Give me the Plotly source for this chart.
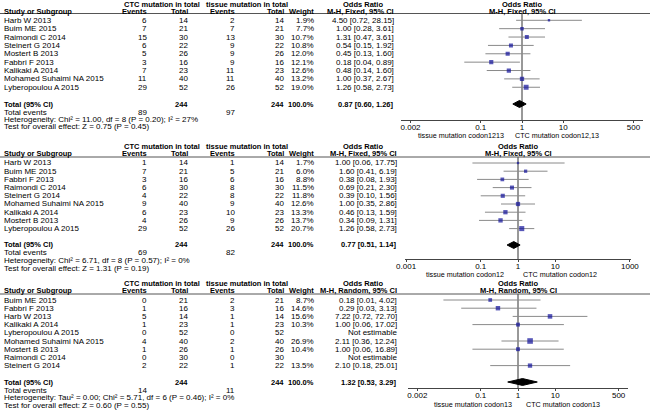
import plotly.graph_objects as go

W, H = 650, 412
FONT = "Arial, Liberation Sans, sans-serif"
FS = 8
FSB = 7.5
FSL = 7.2

# ---------------- data ----------------
p1_studies = ["Harb W 2013", "Buim ME 2015", "Raimondi C 2014", "Steinert G 2014", "Mostert B 2013",
              "Fabbri F 2013", "Kalikaki A 2014", "Mohamed Suhaimi NA 2015", "Lyberopoulou A 2015"]
p1_ctc_events = [6, 7, 15, 6, 5, 3, 7, 11, 29]
p1_ctc_total = [14, 21, 30, 22, 26, 16, 23, 40, 52]
p1_tis_events = [2, 7, 13, 9, 9, 9, 11, 11, 26]
p1_tis_total = [14, 21, 30, 22, 26, 16, 23, 40, 52]
p1_weight = [1.9, 7.7, 10.7, 10.8, 12.0, 12.1, 12.6, 13.2, 19.0]
p1_or = [4.50, 1.00, 1.31, 0.54, 0.45, 0.18, 0.48, 1.00, 1.26]
p1_lo = [0.72, 0.28, 0.47, 0.15, 0.13, 0.04, 0.14, 0.37, 0.58]
p1_hi = [28.15, 3.61, 3.61, 1.92, 1.60, 0.89, 1.60, 2.67, 2.73]
p1_pooled = [0.87, 0.60, 1.26]
p1_total_events = [89, 97]
p1_het = "Heterogeneity: Chi² = 11.00, df = 8 (P = 0.20); I² = 27%"
p1_test = "Test for overall effect: Z = 0.75 (P = 0.45)"

p2_studies = ["Harb W 2013", "Buim ME 2015", "Fabbri F 2013", "Raimondi C 2014", "Steinert G 2014",
              "Mohamed Suhaimi NA 2015", "Kalikaki A 2014", "Mostert B 2013", "Lyberopoulou A 2015"]
p2_ctc_events = [1, 7, 3, 6, 4, 9, 6, 4, 29]
p2_ctc_total = [14, 21, 16, 30, 22, 40, 23, 26, 52]
p2_tis_events = [1, 5, 6, 8, 8, 9, 10, 9, 26]
p2_tis_total = [14, 21, 16, 30, 22, 40, 23, 26, 52]
p2_weight = [1.7, 6.0, 8.8, 11.5, 11.8, 12.6, 13.3, 13.7, 20.7]
p2_or = [1.00, 1.60, 0.38, 0.69, 0.39, 1.00, 0.46, 0.34, 1.26]
p2_lo = [0.06, 0.41, 0.08, 0.21, 0.10, 0.35, 0.13, 0.09, 0.58]
p2_hi = [17.75, 6.19, 1.93, 2.30, 1.56, 2.86, 1.59, 1.31, 2.73]
p2_pooled = [0.77, 0.51, 1.14]
p2_total_events = [69, 82]
p2_het = "Heterogeneity: Chi² = 6.71, df = 8 (P = 0.57); I² = 0%"
p2_test = "Test for overall effect: Z = 1.31 (P = 0.19)"

p3_studies = ["Buim ME 2015", "Fabbri F 2013", "Harb W 2013", "Kalikaki A 2014", "Lyberopoulou A 2015",
              "Mohamed Suhaimi NA 2015", "Mostert B 2013", "Raimondi C 2014", "Steinert G 2014"]
p3_ctc_events = [0, 1, 5, 1, 0, 4, 1, 0, 2]
p3_ctc_total = [21, 16, 14, 23, 52, 40, 26, 30, 22]
p3_tis_events = [2, 3, 1, 1, 0, 2, 1, 0, 1]
p3_tis_total = [21, 16, 14, 23, 52, 40, 26, 30, 22]
p3_weight = [8.7, 14.6, 15.6, 10.3, None, 26.9, 10.4, None, 13.5]
p3_or = [0.18, 0.29, 7.22, 1.00, None, 2.11, 1.00, None, 2.10]
p3_lo = [0.01, 0.03, 0.72, 0.06, None, 0.36, 0.06, None, 0.18]
p3_hi = [4.02, 3.13, 72.70, 17.02, None, 12.24, 16.89, None, 25.01]
p3_pooled = [1.32, 0.53, 3.29]
p3_total_events = [14, 11]
p3_het = "Heterogeneity: Tau² = 0.00; Chi² = 5.71, df = 6 (P = 0.46); I² = 0%"
p3_test = "Test for overall effect: Z = 0.60 (P = 0.55)"

ticks_a = [0.002, 0.1, 1, 10, 500]
ticks_b = [0.001, 0.1, 1, 10, 1000]
tick_labels_a = ["0.002", "0.1", "1", "10", "500"]
tick_labels_b = ["0.001", "0.1", "1", "10", "1000"]

panels = [
    dict(studies=p1_studies, ce=p1_ctc_events, ct=p1_ctc_total, te=p1_tis_events, tt=p1_tis_total,
         w=p1_weight, est=p1_or, lo=p1_lo, hi=p1_hi, pooled=p1_pooled, tev=p1_total_events,
         het=p1_het, test=p1_test, method="M-H, Fixed, 95% CI", tickv=ticks_a, tickt=tick_labels_a,
         left="tissue mutation codon1213", right="CTC mutation codon12,13",
         row0=20.3, sp=8.37, line=13.5, axis=120, hdr1=4.5, hdr2=11.2, xdom=(401, 643), xr=2.93,
         lab_py=135.5, lab_l=505, lab_r=514, or2=522, xor=395),
    dict(studies=p2_studies, ce=p2_ctc_events, ct=p2_ctc_total, te=p2_tis_events, tt=p2_tis_total,
         w=p2_weight, est=p2_or, lo=p2_lo, hi=p2_hi, pooled=p2_pooled, tev=p2_total_events,
         het=p2_het, test=p2_test, method="M-H, Fixed, 95% CI", tickv=ticks_b, tickt=tick_labels_b,
         left="tissue mutation codon12", right="CTC mutation codon12",
         row0=163, sp=8.2, line=157, axis=259, hdr1=146, hdr2=153.2, xdom=(405, 631), xr=3.03,
         lab_py=274.5, lab_l=505, lab_r=522, or2=518, xor=398),
    dict(studies=p3_studies, ce=p3_ctc_events, ct=p3_ctc_total, te=p3_tis_events, tt=p3_tis_total,
         w=p3_weight, est=p3_or, lo=p3_lo, hi=p3_hi, pooled=p3_pooled, tev=p3_total_events,
         het=p3_het, test=p3_test, method="M-H, Random, 95% CI", tickv=ticks_a, tickt=tick_labels_a,
         left="tissue mutation codon13", right="CTC mutation codon13",
         row0=300, sp=8.2, line=294, axis=388, hdr1=283, hdr2=290.2, xdom=(408, 628), xr=2.95,
         lab_py=404, lab_l=513, lab_r=525, or2=518, xor=398),
]

# column right edges (px)
X_STUDY = 3
X_CE, X_CT, X_TE, X_TT, X_W = 148, 189, 236, 285, 315
X_OR_HDR = 363

fig = go.Figure()
annotations = []
shapes = []


def px(x):
    return x / W


def py(y):
    return 1 - y / H


def ann(text, x, y, yref, xanchor="left", bold=False, size=None):
    if size is None:
        size = FSB if bold else FS
    annotations.append(dict(
        text=("<b>%s</b>" % text) if bold else text, x=x, y=y, xref="paper", yref=yref,
        xanchor=xanchor, yanchor="middle", showarrow=False, borderpad=0,
        font=dict(family=FONT, size=size, color="black")))


for k, p in enumerate(panels):
    sfx = "" if k == 0 else str(k + 1)
    xa, ya = "x" + sfx, "y" + sfx
    row_of = lambda yy, p=p: (yy - p["row0"]) / p["sp"]
    n = len(p["studies"])
    total_row = n + 1
    total_py = p["row0"] + total_row * p["sp"]
    X_OR = p["xor"]

    # axes
    fig.layout["xaxis" + sfx] = dict(
        type="log", domain=[px(p["xdom"][0]), px(p["xdom"][1])], range=[-p["xr"], p["xr"]],
        anchor=ya, tickvals=p["tickv"], ticktext=p["tickt"], ticks="outside", ticklen=2,
        ticklabelstandoff=-3,
        tickcolor="#444", showline=True, linecolor="#444", linewidth=1, showgrid=False,
        zeroline=False, tickfont=dict(family=FONT, size=FS, color="black"), fixedrange=True,
        automargin=False)
    fig.layout["yaxis" + sfx] = dict(
        domain=[py(p["axis"]), py(p["line"])], range=[row_of(p["axis"]), row_of(p["line"])],
        anchor=xa, visible=False, showgrid=False, zeroline=False, fixedrange=True,
        automargin=False)

    # header line across the table
    shapes.append(dict(type="line", xref="paper", yref="paper", x0=0, x1=1,
                       y0=py(p["line"]), y1=py(p["line"]), line=dict(color="#555", width=1)))

    # reference line at OR = 1
    fig.add_trace(go.Scatter(x=[1, 1], y=[row_of(p["line"]), row_of(p["axis"])], mode="lines",
                             line=dict(color="#333", width=1), xaxis=xa, yaxis=ya,
                             hoverinfo="skip", showlegend=False))

    # CI lines
    cx, cy = [], []
    for i in range(n):
        if p["est"][i] is None:
            continue
        cx += [p["lo"][i], p["hi"][i], None]
        cy += [i, i, None]
    fig.add_trace(go.Scatter(x=cx, y=cy, mode="lines", line=dict(color="#8a8a8a", width=1),
                             xaxis=xa, yaxis=ya, hoverinfo="skip", showlegend=False))

    # squares
    idx = [i for i in range(n) if p["est"][i] is not None]
    fig.add_trace(go.Scatter(
        x=[p["est"][i] for i in idx], y=idx, mode="markers",
        marker=dict(symbol="square", color="#10109a",
                    size=[1.2 + 0.85 * (p["w"][i] ** 0.5) for i in idx], line=dict(width=0)),
        xaxis=xa, yaxis=ya, hoverinfo="skip", showlegend=False))

    # diamond
    e, l, h = p["pooled"]
    dh = 0.42
    fig.add_trace(go.Scatter(x=[l, e, h, e, l], y=[total_row, total_row - dh, total_row, total_row + dh, total_row],
                             mode="lines", fill="toself", fillcolor="black",
                             line=dict(color="black", width=1), xaxis=xa, yaxis=ya,
                             hoverinfo="skip", showlegend=False))

    # header texts
    y1, y2 = py(p["hdr1"]), py(p["hdr2"])
    ann("CTC mutation in total", px(162), y1, "paper", "center", True)
    ann("tissue mutation in total", px(247), y1, "paper", "center", True)
    ann("Odds Ratio", px(X_OR_HDR), y1, "paper", "center", True)
    ann("Odds Ratio", px(p["or2"]), y1, "paper", "center", True)
    ann("Study or Subgroup", px(X_STUDY), y2, "paper", "left", True)
    ann("Events", px(X_CE), y2, "paper", "right", True)
    ann("Total", px(X_CT), y2, "paper", "right", True)
    ann("Events", px(X_TE), y2, "paper", "right", True)
    ann("Total", px(X_TT), y2, "paper", "right", True)
    ann("Weight", px(X_W), y2, "paper", "right", True)
    ann(p["method"], px(X_OR), y2, "paper", "right", True)
    ann(p["method"], px(p["or2"]), y2, "paper", "center", True)

    # study rows
    for i in range(n):
        ann(p["studies"][i], px(X_STUDY), i, ya, "left")
        ann(str(p["ce"][i]), px(X_CE), i, ya, "right")
        ann(str(p["ct"][i]), px(X_CT), i, ya, "right")
        ann(str(p["te"][i]), px(X_TE), i, ya, "right")
        ann(str(p["tt"][i]), px(X_TT), i, ya, "right")
        if p["w"][i] is not None:
            ann("%.1f%%" % p["w"][i], px(X_W), i, ya, "right")
            ann("%.2f [%.2f, %.2f]" % (p["est"][i], p["lo"][i], p["hi"][i]), px(X_OR), i, ya, "right")
        else:
            ann("Not estimable", px(X_OR), i, ya, "right")

    # totals
    ann("Total (95% CI)", px(X_STUDY), total_row, ya, "left", True)
    ann(str(sum(p["ct"])), px(X_CT), total_row, ya, "right", True)
    ann(str(sum(p["tt"])), px(X_TT), total_row, ya, "right", True)
    ann("100.0%", px(X_W), total_row, ya, "right", True)
    ann("%.2f [%.2f, %.2f]" % (e, l, h), px(X_OR), total_row, ya, "right", True)
    ev_y = py(total_py + 8.0)
    ann("Total events", px(X_STUDY), ev_y, "paper", "left")
    ann(str(p["tev"][0]), px(X_CE), ev_y, "paper", "right")
    ann(str(p["tev"][1]), px(X_TE), ev_y, "paper", "right")
    ann(p["het"], px(X_STUDY), py(total_py + 15.5), "paper", "left")
    ann(p["test"], px(X_STUDY), py(total_py + 23.0), "paper", "left")

    # favours labels
    ann(p["left"], px(p["lab_l"]), py(p["lab_py"]), "paper", "right", size=FSL)
    ann(p["right"], px(p["lab_r"]), py(p["lab_py"]), "paper", "left", size=FSL)

fig.update_layout(
    width=W, height=H, margin=dict(l=0, r=0, t=0, b=0, autoexpand=False),
    paper_bgcolor="white", plot_bgcolor="white", showlegend=False,
    annotations=annotations, shapes=shapes,
    font=dict(family=FONT, size=FS, color="black"),
)

fig.write_html("out.html", config={"displayModeBar": False},
               post_script="document.body.style.margin='0';document.body.style.padding='0';")
